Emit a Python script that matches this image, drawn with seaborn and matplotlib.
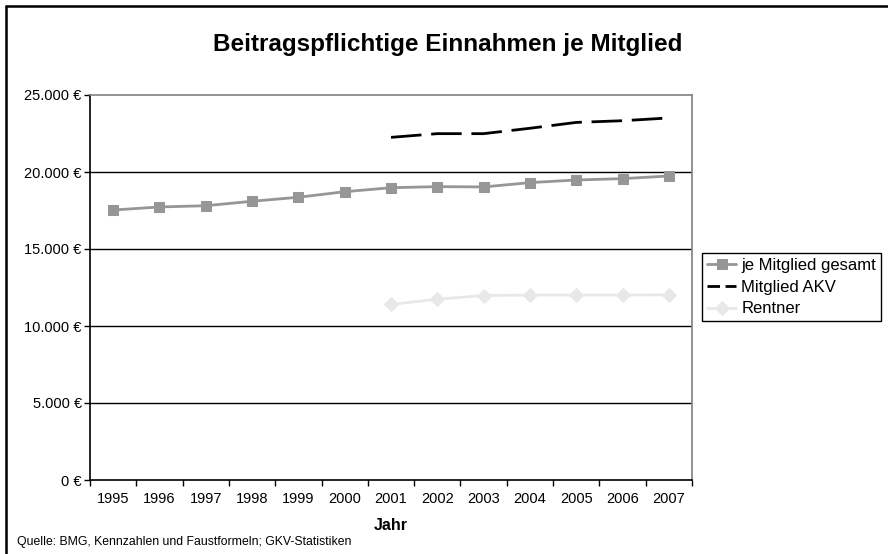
import matplotlib
matplotlib.use("Agg")
import matplotlib.pyplot as plt
import matplotlib.ticker as mticker
from matplotlib.lines import Line2D
import seaborn as sns

# ------------------------------------------------------------------
# Data
# ------------------------------------------------------------------
years = [1995, 1996, 1997, 1998, 1999, 2000, 2001, 2002, 2003, 2004, 2005, 2006, 2007]
je_mitglied = [17530, 17730, 17810, 18100, 18360, 18720, 18980, 19050, 19030,
               19310, 19480, 19570, 19740]

years_akv = [2001, 2002, 2003, 2004, 2005, 2006, 2007]
mitglied_akv = [22250, 22490, 22490, 22840, 23220, 23330, 23510]
rentner = [11400, 11740, 11980, 12010, 12010, 12010, 12020]

y_ticks = [0, 5000, 10000, 15000, 20000, 25000]

sns.set_theme(style="white")
plt.rcParams["font.family"] = ["Liberation Sans", "DejaVu Sans"]
plt.rcParams["text.color"] = "black"
plt.rcParams["axes.labelcolor"] = "black"

W, H = 888, 554
fig = plt.figure(figsize=(W / 100, H / 100), dpi=100)
ax = fig.add_axes([90 / W, (H - 480) / H, (692 - 90) / W, (480 - 95) / H])

sns.lineplot(x=years, y=je_mitglied, ax=ax, color="#969696", linewidth=2,
             marker="s", markersize=6.5, markeredgecolor="#969696",
             label="je Mitglied gesamt", zorder=4)
sns.lineplot(x=years_akv, y=mitglied_akv, ax=ax, color="black", linewidth=2,
             dashes=False, label="Mitglied AKV", zorder=4)
ax.lines[-1].set_dashes((11, 3.5))
sns.lineplot(x=years_akv, y=rentner, ax=ax, color="#e8e8e8", linewidth=2,
             marker="D", markersize=7, markeredgecolor="#e8e8e8",
             label="Rentner", zorder=4)

# axes limits / ticks
ax.set_xlim(1994.5, 2007.5)
ax.set_ylim(0, 25000)
ax.set_xticks(years)
ax.set_xticklabels([str(y) for y in years])
ax.set_xticks([y + 0.5 for y in [1994] + years], minor=True)
ax.set_yticks(y_ticks)
ax.yaxis.set_major_formatter(
    mticker.FuncFormatter(lambda v, p: f"{int(v):,} €".replace(",", ".")))

ax.tick_params(axis="x", which="major", length=0, pad=8.5, labelsize=10.5,
               colors="black")
ax.tick_params(axis="x", which="minor", length=4, width=1, direction="out",
               color="black", bottom=True)
ax.tick_params(axis="y", which="major", length=4, width=1, direction="out",
               pad=2, labelsize=10.5, colors="black", left=True)

for yv in y_ticks[1:-1]:
    ax.axhline(yv, color="black", linewidth=1, zorder=1)

for side in ["left", "bottom"]:
    ax.spines[side].set_color("black")
    ax.spines[side].set_linewidth(1.2)
for side in ["top", "right"]:
    ax.spines[side].set_color("#808080")
    ax.spines[side].set_linewidth(1.2)

ax.set_xlabel("Jahr", fontsize=11.5, fontweight="bold", color="black")
ax.xaxis.set_label_coords(0.5, -(525 - 480) / 385)
ax.xaxis.label.set_va("center")
ax.set_ylabel("")

leg = ax.legend(loc="upper left", bbox_to_anchor=(702 / W, 1 - 253 / H),
                bbox_transform=fig.transFigure, fontsize=12, frameon=True,
                fancybox=False, edgecolor="black", framealpha=1,
                handlelength=1.75, handletextpad=0.3, labelspacing=0.4,
                borderpad=0.3, borderaxespad=0)
leg.get_frame().set_linewidth(1)
leg.get_lines()[1].set_dashes((4.5, 2))
for t in leg.get_texts():
    t.set_color("black")

fig.text(448 / W, 1 - 45 / H, "Beitragspflichtige Einnahmen je Mitglied",
         ha="center", va="center", fontsize=17.5, fontweight="bold",
         color="black")
fig.text(17 / W, 1 - 542 / H,
         "Quelle: BMG, Kennzahlen und Faustformeln; GKV-Statistiken",
         ha="left", va="center", fontsize=8.8, color="black")

# outer chart frame (open at right/bottom like the cropped original)
fig.add_artist(Line2D([6 / W, 1.0], [1 - 6 / H] * 2, color="black", lw=1.8,
                      transform=fig.transFigure))
fig.add_artist(Line2D([6 / W] * 2, [0.0, 1 - 6 / H], color="black", lw=1.8,
                      transform=fig.transFigure))

fig.savefig("out.png", dpi=100)
